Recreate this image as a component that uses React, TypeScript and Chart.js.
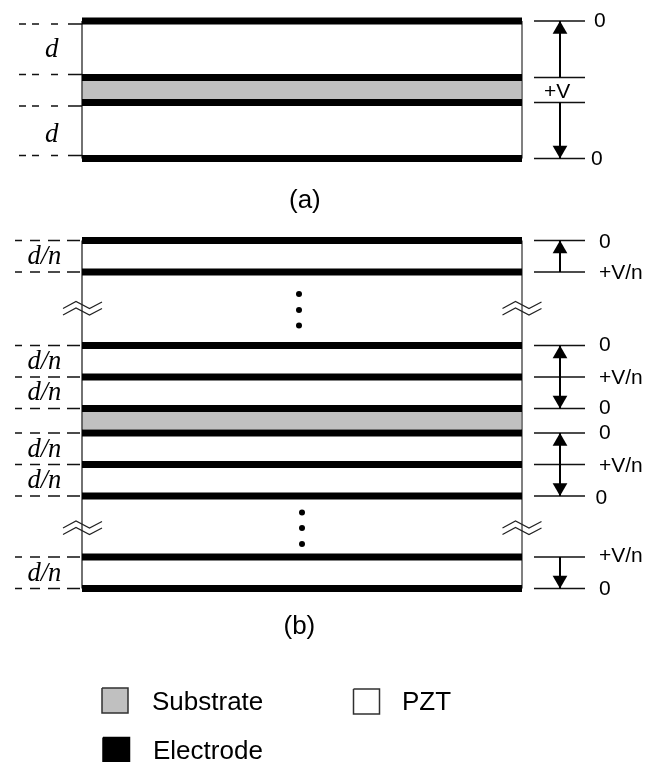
import React, { useEffect, useRef } from "react";
import { Chart, registerables } from "chart.js";

Chart.register(...registerables);

// Layer geometry, read in the drawing's own units (the picture's pixels)
const layerLeft = 82;
const layerRight = 522;
const electrodeThickness = 7;
const electrodesA = [21, 77.5, 102.5, 158.5];
const electrodesB = [240.5, 272, 345.5, 377, 408.5, 433, 464.5, 496, 557, 588.5];
const substrateA = [81, 99];
const substrateB = [412, 429.5];

const dashRowsA = [24, 74.5, 106, 155.5];
const dashRowsB = electrodesB;
const dashStartA = 19;
const dashStartB = 15;
const dashPatternA = [14, 10, 7, 12, 7, 6, 7, 0];
const dashPatternB = [13, 7, 12, 8, 10, 8, 7, 0];

const tickRowsA = electrodesA;
const tickRowsB = electrodesB;
const tickSpan = [534, 585];
const arrowX = 560;
// [from, to, head at "from", head at "to"]
const arrows: [number, number, boolean, boolean][] = [
  [21, 77.5, true, false],
  [102.5, 158.5, false, true],
  [240.5, 272, true, false],
  [345.5, 408.5, true, true],
  [433, 496, true, true],
  [557, 588.5, false, true],
];

const breakRows = [305, 524.5];
const breakCenters = [82.5, 522];
const breakShapeX = [-19.5, -6.5, 7, 19.5];
const breakShapeY = [3.5, -3.5, 3.5, -3];
const breakGap = 6.5;

const dotsUpper = [
  { x: 299, y: 294 },
  { x: 299, y: 310 },
  { x: 299, y: 325.5 },
];
const dotsLower = [
  { x: 302, y: 512.5 },
  { x: 302, y: 528 },
  { x: 302, y: 544 },
];

const legendBoxes = [
  { x0: 102, x1: 128, y0: 688, y1: 713, fill: "#c0c0c0", line: "#303030" },
  { x0: 353.5, x1: 379.5, y0: 689, y1: 714, fill: "#ffffff", line: "#303030" },
  { x0: 103, x1: 129.5, y0: 737.5, y1: 762, fill: "#000000", line: "#000000" },
];

const sans21 = '21px "Liberation Sans"';
const sans26 = '26px "Liberation Sans"';
const serif27 = 'italic 27px "Liberation Serif"';
const serif26 = 'italic 26.5px "Liberation Serif"';

const textLabels: [string, number, number, string][] = [
  ["0", 594, 27, sans21],
  ["+V", 544, 98, sans21],
  ["0", 591, 165, sans21],
  ["0", 599, 247.5, sans21],
  ["+V/n", 599, 279, sans21],
  ["0", 599, 351, sans21],
  ["+V/n", 599, 383.5, sans21],
  ["0", 599, 414, sans21],
  ["0", 599, 439, sans21],
  ["+V/n", 599, 472, sans21],
  ["0", 595.5, 503.5, sans21],
  ["+V/n", 599, 562, sans21],
  ["0", 599, 595, sans21],
  ["d", 45, 57, serif27],
  ["d", 45, 142, serif27],
  ["d/n", 27.5, 264, serif26],
  ["d/n", 27.5, 369, serif26],
  ["d/n", 27.5, 400, serif26],
  ["d/n", 27.5, 456.5, serif26],
  ["d/n", 27.5, 488, serif26],
  ["d/n", 27.5, 581, serif26],
  ["(a)", 289, 207.5, sans26],
  ["(b)", 283.5, 634, sans26],
  ["Substrate", 152, 710, sans26],
  ["PZT", 402, 710, sans26],
  ["Electrode", 153, 759, sans26],
];

const rectPoints = (x0: number, x1: number, y0: number, y1: number) => [
  { x: x0, y: y0 },
  { x: x1, y: y0 },
  { x: x1, y: y1 },
  { x: x0, y: y1 },
  { x: x0, y: y0 },
];

const base = { pointRadius: 0, tension: 0, fill: false };

const hLine = (x0: number, x1: number, y: number, color: string, width: number, dash: number[] = []) => ({
  ...base,
  data: [
    { x: x0, y },
    { x: x1, y },
  ],
  borderColor: color,
  borderWidth: width,
  borderDash: dash,
});

const vLine = (x: number, y0: number, y1: number, color: string, width: number) => ({
  ...base,
  data: [
    { x, y: y0 },
    { x, y: y1 },
  ],
  borderColor: color,
  borderWidth: width,
});

const filledRect = (x0: number, x1: number, y0: number, y1: number, fill: string, line?: string) => ({
  ...base,
  data: rectPoints(x0, x1, y0, y1),
  fill: "shape",
  backgroundColor: fill,
  borderColor: line ?? fill,
  borderWidth: line ? 1.5 : 0,
});

const buildDatasets = () => {
  const sets: any[] = [];
  const headRadius = 8.5;
  // first dataset is painted last
  for (const a of arrows) {
    const [from, to, headFrom, headTo] = a;
    const heads = [];
    const rotations = [];
    if (headFrom) {
      heads.push({ x: arrowX, y: from + headRadius });
      rotations.push(0);
    }
    if (headTo) {
      heads.push({ x: arrowX, y: to - headRadius });
      rotations.push(180);
    }
    sets.push({
      data: heads,
      showLine: false,
      pointStyle: "triangle",
      pointRadius: headRadius,
      pointRotation: rotations,
      pointBackgroundColor: "#000",
      pointBorderWidth: 0,
    });
    sets.push(vLine(arrowX, from, to, "#000", 2));
  }
  for (const dots of [dotsUpper, dotsLower]) {
    sets.push({
      data: dots,
      showLine: false,
      pointStyle: "circle",
      pointRadius: 3,
      pointBackgroundColor: "#000",
      pointBorderWidth: 0,
    });
  }
  for (const row of breakRows) {
    for (const cx of breakCenters) {
      for (const off of [0, breakGap]) {
        sets.push({
          ...base,
          data: breakShapeX.map((dx, i) => ({ x: cx + dx, y: row + off + breakShapeY[i] })),
          borderColor: "#222",
          borderWidth: 1.2,
        });
      }
    }
  }
  for (const y of [...electrodesA, ...electrodesB]) {
    sets.push(filledRect(layerLeft, layerRight, y - electrodeThickness / 2, y + electrodeThickness / 2, "#000"));
  }
  for (const y of [...tickRowsA, ...tickRowsB]) {
    sets.push(hLine(tickSpan[0], tickSpan[1], y, "#111", 1.5));
  }
  for (const y of dashRowsA) sets.push(hLine(layerLeft, dashStartA, y, "#111", 1.5, dashPatternA));
  for (const y of dashRowsB) sets.push(hLine(layerLeft - 2, dashStartB, y, "#111", 1.5, dashPatternB));
  sets.push(vLine(layerLeft, electrodesA[0], electrodesA[3], "#444", 1.5));
  sets.push(vLine(layerRight, electrodesA[0], electrodesA[3], "#808080", 2));
  sets.push(vLine(layerLeft, electrodesB[0], electrodesB[9], "#444", 1.5));
  sets.push(vLine(layerRight, electrodesB[0], electrodesB[9], "#808080", 2));
  sets.push(filledRect(layerLeft, layerRight, substrateA[0], substrateA[1], "#c0c0c0"));
  sets.push(filledRect(layerLeft, layerRight, substrateB[0], substrateB[1], "#c0c0c0"));
  for (const b of legendBoxes) sets.push(filledRect(b.x0, b.x1, b.y0, b.y1, b.fill, b.line));
  return sets;
};

const textPlugin = {
  id: "drawingText",
  afterDatasetsDraw(chart: any) {
    const { ctx, scales } = chart;
    ctx.save();
    ctx.fillStyle = "#000";
    ctx.textAlign = "left";
    ctx.textBaseline = "alphabetic";
    for (const [text, x, y, font] of textLabels) {
      ctx.font = font;
      ctx.fillText(text, scales.x.getPixelForValue(x), scales.y.getPixelForValue(y));
    }
    ctx.restore();
  },
};

export default function App() {
  const ref = useRef<HTMLCanvasElement>(null);
  useEffect(() => {
    const chart = new Chart(ref.current!, {
      type: "line",
      data: { datasets: buildDatasets() },
      options: {
        animation: false,
        responsive: false,
        devicePixelRatio: 1,
        layout: { padding: 0, autoPadding: false },
        plugins: { legend: { display: false }, tooltip: { enabled: false } },
        elements: { line: { capBezierPoints: false } },
        scales: {
          x: { type: "linear", min: 0, max: 657, display: false },
          y: { type: "linear", min: 0, max: 762, reverse: true, display: false },
        },
      },
      plugins: [textPlugin],
    } as any);
    return () => chart.destroy();
  }, []);
  return (
    <canvas
      ref={ref}
      width={657}
      height={762}
      style={{ position: "absolute", left: 0, top: 0, display: "block" }}
    />
  );
}
